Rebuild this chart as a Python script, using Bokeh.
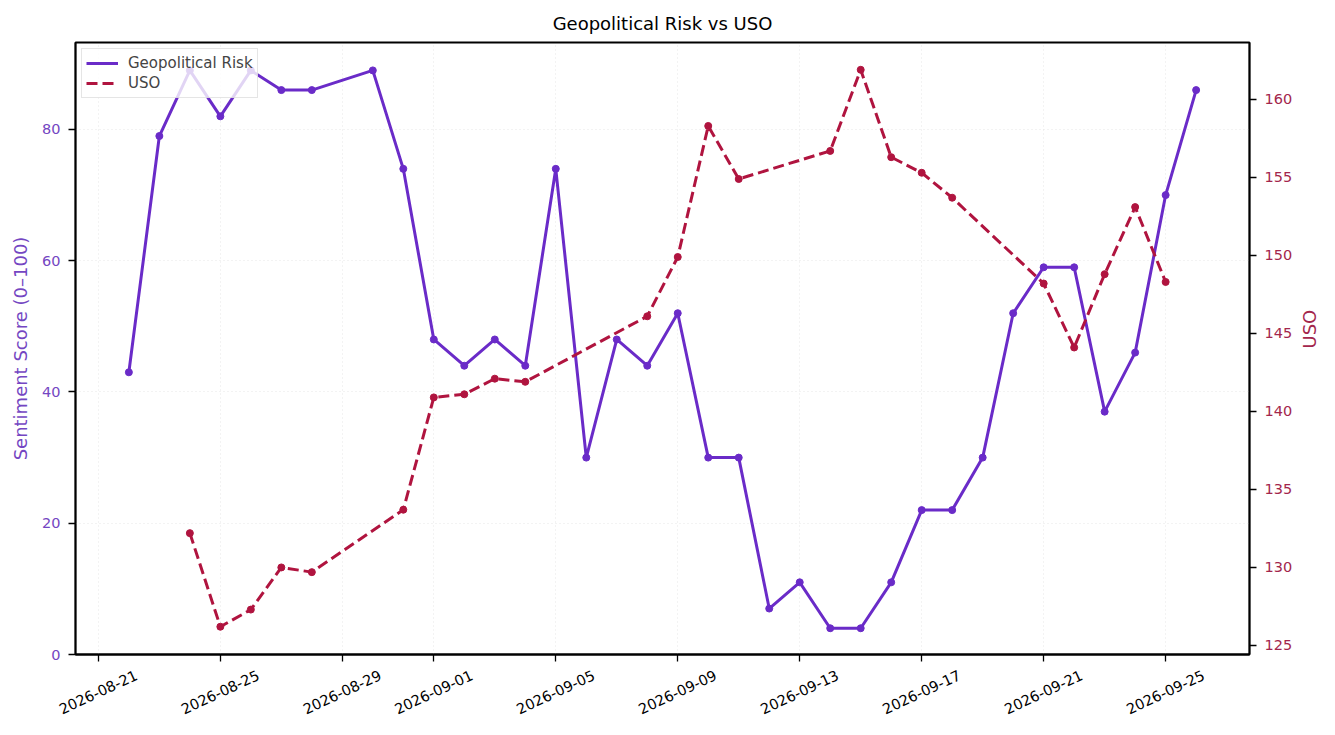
import numpy as np
from bokeh.plotting import figure
from bokeh.models import (LinearAxis, DatetimeAxis, Range1d, FixedTicker,
                          DatetimeTickFormatter, Legend, LegendItem)
from bokeh.embed import file_html
from bokeh.resources import INLINE

geo_dates = ["2026-08-22", "2026-08-23", "2026-08-24", "2026-08-25", "2026-08-26",
             "2026-08-27", "2026-08-28", "2026-08-30", "2026-08-31", "2026-09-01",
             "2026-09-02", "2026-09-03", "2026-09-04", "2026-09-05", "2026-09-06",
             "2026-09-07", "2026-09-08", "2026-09-09", "2026-09-10", "2026-09-11",
             "2026-09-12", "2026-09-13", "2026-09-14", "2026-09-15", "2026-09-16",
             "2026-09-17", "2026-09-18", "2026-09-19", "2026-09-20", "2026-09-21",
             "2026-09-22", "2026-09-23", "2026-09-24", "2026-09-25", "2026-09-26"]
geo_risk = [43, 79, 89, 82, 89, 86, 86, 89, 74, 48, 44, 48, 44, 74, 30, 48, 44, 52,
            30, 30, 7, 11, 4, 4, 11, 22, 22, 30, 52, 59, 59, 37, 46, 70, 86]

uso_dates = ["2026-08-24", "2026-08-25", "2026-08-26", "2026-08-27", "2026-08-28",
             "2026-08-31", "2026-09-01", "2026-09-02", "2026-09-03", "2026-09-04",
             "2026-09-08", "2026-09-09", "2026-09-10", "2026-09-11", "2026-09-14",
             "2026-09-15", "2026-09-16", "2026-09-17", "2026-09-18", "2026-09-21",
             "2026-09-22", "2026-09-23", "2026-09-24", "2026-09-25"]
uso = [132.2, 126.2, 127.3, 130.0, 129.7, 133.7, 140.9, 141.1, 142.1, 141.9,
       146.1, 149.9, 158.3, 154.9, 156.7, 161.9, 156.3, 155.3, 153.7, 148.2,
       144.1, 148.8, 153.1, 148.3]

tick_dates = ["2026-08-21", "2026-08-25", "2026-08-29", "2026-09-01", "2026-09-05",
              "2026-09-09", "2026-09-13", "2026-09-17", "2026-09-21", "2026-09-25"]
left_ticks = [0, 20, 40, 60, 80]
right_ticks = [125, 130, 135, 140, 145, 150, 155, 160]

def ms(d):
    return np.array(d, dtype="datetime64[ms]").astype("int64").astype(float)

gx = ms(geo_dates)
ux = ms(uso_dates)
tx = list(ms(tick_dates))
day = 86400000.0

PURPLE = "#6a2bc8"
RED = "#b0143f"
FONT = "DejaVu Sans"

x0, x1 = gx[0] - 1.75 * day, gx[-1] + 1.75 * day
p = figure(width=1333, height=727, x_axis_type="datetime",
           output_backend="svg", toolbar_location=None,
           title="Geopolitical Risk vs USO",
           x_range=Range1d(x0, x1), y_range=Range1d(0, 93.25),
           min_border_left=75, min_border_right=84,
           min_border_top=42, min_border_bottom=73)
p.extra_y_ranges = {"uso": Range1d(124.42, 163.65)}
# rotated date labels are anchored at their end; a shifted range centres them on the ticks
lab_shift = 1.25 * day
p.extra_x_ranges = {"lab": Range1d(x0 - lab_shift, x1 - lab_shift)}

p.title.align = "center"
p.title.text_font = FONT
p.title.text_font_size = "18px"
p.title.text_font_style = "normal"
p.title.text_color = "black"
p.title.standoff = 17

p.outline_line_color = "black"
p.outline_line_width = 1.8
p.outline_line_alpha = 1

fmt = DatetimeTickFormatter(days="%Y-%m-%d", months="%Y-%m-%d")

# x axis: tick marks only (labels come from the axis below it)
xa = p.xaxis[0]
xa.ticker = FixedTicker(ticks=tx)
xa.formatter = fmt
xa.major_label_text_color = None
xa.major_label_text_font_size = "1px"
xa.major_label_standoff = 0

# x labels
la = DatetimeAxis(x_range_name="lab", ticker=FixedTicker(ticks=tx), formatter=fmt)
la.major_label_orientation = 25 * np.pi / 180
la.axis_line_color = None
la.major_tick_line_color = None
la.minor_tick_line_color = None
la.major_tick_out = 0
la.major_tick_in = 0
la.major_label_standoff = 13
la.major_label_text_font = FONT
la.major_label_text_font_size = "14.5px"
la.major_label_text_color = "black"
p.add_layout(la, "below")

# left axis
ya = p.yaxis[0]
ya.ticker = FixedTicker(ticks=left_ticks)
ya.axis_label = "Sentiment Score (0\u2013100)"
ya.axis_label_text_color = "#7446c2"
ya.major_label_text_color = "#7446c2"
ya.major_label_text_font_size = "14.5px"
ya.major_label_standoff = 8
ya.axis_label_standoff = 8

# right axis
ra = LinearAxis(y_range_name="uso", axis_label="USO",
                ticker=FixedTicker(ticks=right_ticks))
ra.axis_label_text_color = "#a3264c"
ra.major_label_text_color = "#a3264c"
ra.axis_label_orientation = np.pi / 2
ra.major_label_text_font_size = "14.5px"
ra.major_label_standoff = 8
ra.axis_label_standoff = 14
p.add_layout(ra, "right")

for ax in [xa, ya, ra]:
    ax.axis_line_color = "black"
    ax.axis_line_width = 1.8
    ax.major_tick_out = 7
    ax.major_tick_in = 0
    ax.major_tick_line_width = 1.3
    ax.major_tick_line_color = "black"
    ax.minor_tick_line_color = None
    ax.major_label_text_font = FONT
    ax.axis_label_text_font = FONT
    ax.axis_label_text_font_size = "18px"
    ax.axis_label_text_font_style = "normal"

p.xgrid.grid_line_color = "#dcdcdc"
p.xgrid.grid_line_dash = "1 3"
p.xgrid.grid_line_alpha = 0.7
p.ygrid.grid_line_color = "#dcdcdc"
p.ygrid.grid_line_dash = "1 3"
p.ygrid.grid_line_alpha = 0.7

g_line = p.line(gx, geo_risk, line_color=PURPLE, line_width=3)
p.scatter(gx, geo_risk, size=7, color=PURPLE)

u_line = p.line(ux, uso, line_color=RED, line_width=3, line_dash="11 5",
                y_range_name="uso")
p.scatter(ux, uso, size=7, color=RED, y_range_name="uso")

legend = Legend(items=[LegendItem(label="Geopolitical Risk", renderers=[g_line]),
                       LegendItem(label="USO", renderers=[u_line])],
                location="top_left")
legend.label_text_font = FONT
legend.label_text_font_size = "15px"
legend.background_fill_alpha = 0.8
legend.border_line_color = "#cccccc"
legend.border_line_width = 1
legend.margin = 6
legend.padding = 4
legend.spacing = 0
legend.glyph_width = 32
legend.glyph_height = 20
legend.label_height = 20
legend.label_standoff = 10
p.add_layout(legend)

open("out.html", "w").write(file_html(p, INLINE))
